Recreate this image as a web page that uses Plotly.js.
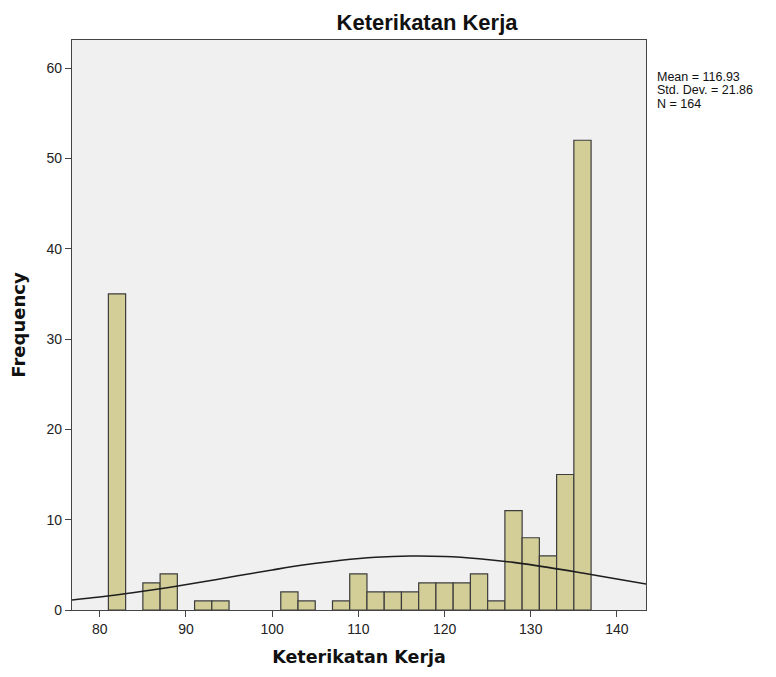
<!DOCTYPE html>
<html><head><meta charset="utf-8">
<script src="https://cdn.plot.ly/plotly-3.0.1.min.js"></script>
<style>html,body{margin:0;padding:0;background:#fff;}</style>
</head><body>
<div id="chart" style="width:776px;height:677px;"></div>
<script>
// Histogram bins (centers, width 2) and frequencies
const binCenters = [82, 86, 88, 92, 94, 102, 104, 108, 110, 112, 114, 116, 118, 120, 122, 124, 126, 128, 130, 132, 134, 136];
const frequencies = [35, 3, 4, 1, 1, 2, 1, 1, 4, 2, 2, 2, 3, 3, 3, 4, 1, 11, 8, 6, 15, 52];
// Normal curve points
const curveX = [76, 80, 84, 88, 92, 96, 100, 104, 108, 112, 116, 120, 124, 128, 132, 136, 140, 144];
const curveY = [1.04, 1.44, 1.93, 2.49, 3.12, 3.79, 4.43, 5.03, 5.51, 5.84, 5.98, 5.93, 5.68, 5.27, 4.72, 4.09, 3.43, 2.78];
const xTicks = [80, 90, 100, 110, 120, 130, 140];
const yTicks = [0, 10, 20, 30, 40, 50, 60];
const statsLines = ["Mean = 116.93", "Std. Dev. = 21.86", "N = 164"];

const font = "Liberation Sans, Arial, sans-serif";
const boldFont = "DejaVu Sans, Verdana, sans-serif";

const traces = [
  {
    type: "bar", x: binCenters, y: frequencies, width: 2,
    marker: {color: "#d3ce98", line: {color: "#3c3c3c", width: 1.2}},
    hoverinfo: "x+y", showlegend: false
  },
  {
    type: "scatter", mode: "lines", x: curveX, y: curveY,
    line: {color: "#1e1e1e", width: 1.6, shape: "spline"},
    showlegend: false, hoverinfo: "skip"
  }
];

const statY = [0.9355, 0.912, 0.8885];

const layout = {
  width: 776, height: 677,
  margin: {l: 72, r: 130, t: 40, b: 67},
  paper_bgcolor: "#ffffff", plot_bgcolor: "#f0f0f0",
  font: {family: font, size: 13, color: "#222"},
  title: {text: "<b>Keterikatan Kerja</b>", font: {family: font, size: 22, color: "#111"},
          xref: "container", x: 0.5503, xanchor: "center", yref: "container", y: 0.9665, yanchor: "middle"},
  bargap: 0,
  xaxis: {
    range: [76.78, 143.37], tickvals: xTicks, ticktext: xTicks.map(String),
    ticks: "outside", ticklen: 6, tickcolor: "#444", tickwidth: 1,
    showgrid: false, zeroline: false, showline: true, linecolor: "#444", linewidth: 1.2, mirror: true,
    tickfont: {family: font, size: 14, color: "#222"},
    title: {text: "<b>Keterikatan Kerja</b>", font: {family: boldFont, size: 17.5, color: "#111"}, standoff: 14}
  },
  yaxis: {
    range: [0, 63.1], tickvals: yTicks, ticktext: yTicks.map(String),
    ticks: "outside", ticklen: 6, tickcolor: "#444", tickwidth: 1,
    showgrid: false, zeroline: false, showline: true, linecolor: "#444", linewidth: 1.2, mirror: true,
    tickfont: {family: font, size: 14, color: "#222"},
    title: {text: "<b>Frequency</b>", font: {family: boldFont, size: 18, color: "#111"}, standoff: 16}
  },
  annotations: statsLines.map((t, i) => ({
    xref: "paper", yref: "paper", x: 1.0155, y: statY[i], xanchor: "left", yanchor: "middle",
    text: t, align: "left", showarrow: false,
    font: {family: font, size: 12.5, color: "#111"}
  }))
};

Plotly.newPlot("chart", traces, layout, {displayModeBar: false, staticPlot: true});
</script>
</body></html>
